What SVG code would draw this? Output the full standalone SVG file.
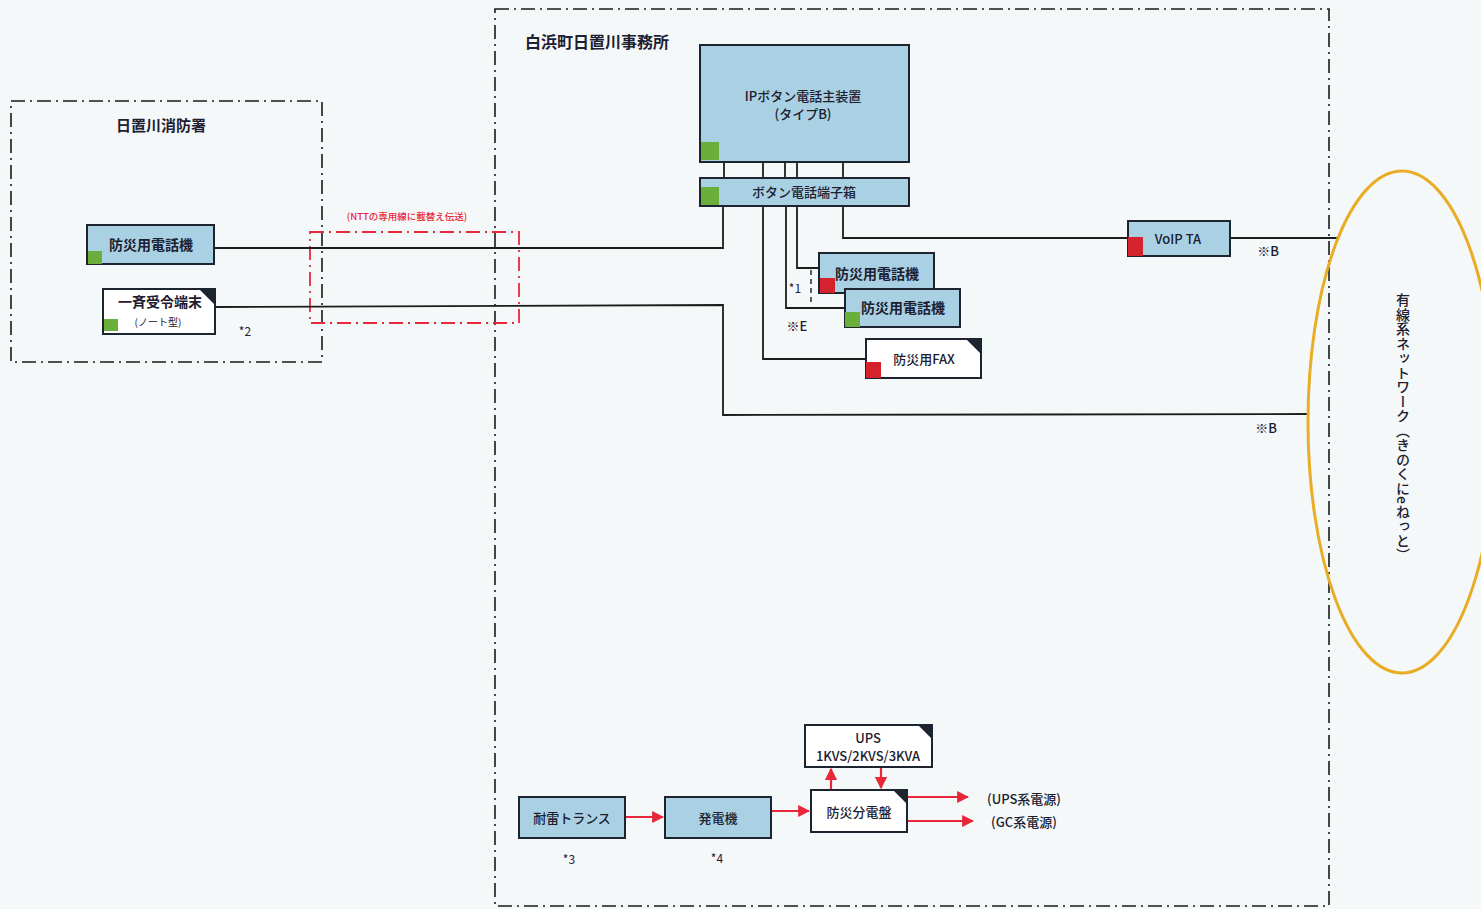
<svg xmlns="http://www.w3.org/2000/svg" width="1481" height="909" viewBox="0 0 1481 909">
<defs>
<style>
.frame{fill:none;stroke:#1a1a1a;stroke-width:1.6;stroke-dasharray:14 5 2 5}
.rframe{fill:none;stroke:#e8283a;stroke-width:1.8;stroke-dasharray:14 5 2 5}
.blue{fill:#a9d1e3;stroke:#1c2430;stroke-width:2}
.white{fill:#ffffff;stroke:#1c2430;stroke-width:2}
.g{fill:#6aae3c}
.r{fill:#d4232d}
.corner{fill:#1c2430}
.t{font-family:"Noto Sans CJK JP","Liberation Sans",sans-serif;font-size:13px;font-weight:500;fill:#1c2030;text-anchor:middle;dominant-baseline:central}
.tb{font-family:"Noto Sans CJK JP","Liberation Sans",sans-serif;font-size:14px;font-weight:bold;fill:#1c2030;text-anchor:middle;dominant-baseline:central}
.title{font-family:"Noto Sans CJK JP","Liberation Sans",sans-serif;font-size:16px;font-weight:bold;fill:#1c2030;text-anchor:middle;dominant-baseline:central}
.ts{font-family:"Noto Sans CJK JP","Liberation Sans",sans-serif;font-size:12px;fill:#1c2030;text-anchor:middle;dominant-baseline:central}
.wire{fill:none;stroke:#1c1c1c;stroke-width:1.8}
.pw{fill:none;stroke:#e8283a;stroke-width:2.2}
</style>
<marker id="ah" viewBox="0 0 10 10" refX="9" refY="5" markerWidth="5.5" markerHeight="5.5" orient="auto-start-reverse" markerUnits="strokeWidth">
<path d="M0,0 L10,5 L0,10 z" fill="#e8283a"/>
</marker>
</defs>
<rect x="0" y="0" width="1481" height="909" fill="#f5f8f9"/>

<g id="frames">
<rect class="frame" x="11" y="101" width="311" height="261"/>
<text class="title" x="161" y="124" style="font-size:15px">日置川消防署</text>
<rect class="frame" x="495" y="9" width="834" height="897"/>
<text class="title" x="597" y="41">白浜町日置川事務所</text>
<rect class="rframe" x="310" y="232" width="209" height="91"/>
<text x="407" y="216" font-family="'Noto Sans CJK JP','Liberation Sans',sans-serif" font-size="9.5" font-weight="500" fill="#e8283a" text-anchor="middle" dominant-baseline="central">(NTTの専用線に載替え伝送)</text>
</g>

<g id="connectors">
<polyline class="wire" points="214,248 723,248 723,206"/>
<polyline class="wire" points="215,307 723,305 723,415 1308,414"/>
<line class="wire" x1="724" y1="162" x2="724" y2="178"/>
<line class="wire" x1="763" y1="162" x2="763" y2="178"/>
<line class="wire" x1="785" y1="162" x2="785" y2="178"/>
<line class="wire" x1="797" y1="162" x2="797" y2="178"/>
<line class="wire" x1="843" y1="162" x2="843" y2="178"/>
<polyline class="wire" points="797,206 797,268 819,268"/>
<polyline class="wire" points="786,206 786,308 845,308"/>
<line x1="811" y1="270" x2="811" y2="306" stroke="#1c1c1c" stroke-width="1.4" stroke-dasharray="5 4"/>
<polyline class="wire" points="763,206 763,359 866,359"/>
<polyline class="wire" points="843,206 843,238 1128,238"/>
<line class="wire" x1="1230" y1="238" x2="1338" y2="238"/>
<text class="ts" x="795" y="287">*1</text>
<text class="t" x="797" y="325">※E</text>
<text class="t" x="1268" y="250">※B</text>
<text class="t" x="1266" y="427">※B</text>
<text class="ts" x="245" y="330">*2</text>
<line class="pw" x1="625" y1="817" x2="663" y2="817" marker-end="url(#ah)"/>
<line class="pw" x1="771" y1="811" x2="809" y2="811" marker-end="url(#ah)"/>
<line class="pw" x1="831" y1="790" x2="831" y2="769" marker-end="url(#ah)"/>
<line class="pw" x1="881" y1="767" x2="881" y2="788" marker-end="url(#ah)"/>
<line class="pw" x1="907" y1="797" x2="968" y2="797" marker-end="url(#ah)"/>
<line class="pw" x1="907" y1="821" x2="973" y2="821" marker-end="url(#ah)"/>
</g>

<g id="fire-phone">
<rect class="blue" x="87" y="225" width="127" height="39"/>
<rect class="g" x="88" y="251" width="14" height="13"/>
<text class="tb" x="151" y="244">防災用電話機</text>
</g>

<g id="fire-terminal">
<rect class="white" x="103" y="289" width="112" height="45"/>
<polygon class="corner" points="199,289 215,289 215,305"/>
<rect class="g" x="104" y="319" width="14" height="12"/>
<text class="tb" x="160" y="301">一斉受令端末</text>
<text class="ts" x="158" y="321" style="font-size:10px">(ノート型)</text>
</g>

<g id="ip-main">
<rect class="blue" x="700" y="45" width="209" height="117"/>
<rect class="g" x="701" y="142" width="18" height="18"/>
<text class="t" x="803" y="95">IPボタン電話主装置</text>
<text class="t" x="803" y="113">(タイプB)</text>
</g>

<g id="terminal-box">
<rect class="blue" x="700" y="178" width="209" height="28"/>
<rect class="g" x="701" y="187" width="18" height="18"/>
<text class="t" x="804" y="191">ボタン電話端子箱</text>
</g>

<g id="phone1">
<rect class="blue" x="819" y="253" width="115" height="40"/>
<rect class="r" x="820" y="278" width="15" height="15"/>
<text class="tb" x="877" y="273">防災用電話機</text>
</g>

<g id="phone2">
<rect class="blue" x="845" y="289" width="115" height="38"/>
<rect class="g" x="845" y="312" width="15" height="15"/>
<text class="tb" x="903" y="307">防災用電話機</text>
</g>

<g id="fax">
<rect class="white" x="866" y="339" width="115" height="39"/>
<polygon class="corner" points="966,339 981,339 981,354"/>
<rect class="r" x="866" y="362" width="15" height="16"/>
<text class="t" x="924" y="358">防災用FAX</text>
</g>

<g id="voip-ta">
<rect class="blue" x="1128" y="221" width="102" height="35"/>
<rect class="r" x="1128" y="237" width="15" height="19"/>
<text class="t" x="1178" y="238">VoIP TA</text>
</g>

<g id="network">
<ellipse cx="1402" cy="422" rx="94" ry="251" fill="none" stroke="#e8ad25" stroke-width="3"/>
<text x="1403" y="293" font-family="'Noto Sans CJK JP',sans-serif" font-size="14" font-weight="500" letter-spacing="0.5" fill="#1c2030" writing-mode="vertical-rl" text-anchor="start">有線系ネットワーク（きのくにeねっと）</text>
</g>

<g id="transformer">
<rect class="blue" x="519" y="797" width="106" height="41"/>
<text class="t" x="572" y="817">耐雷トランス</text>
<text class="ts" x="569" y="858">*3</text>
</g>

<g id="generator">
<rect class="blue" x="665" y="797" width="106" height="41"/>
<text class="t" x="718" y="817">発電機</text>
<text class="ts" x="717" y="857">*4</text>
</g>

<g id="panel">
<rect class="white" x="811" y="790" width="96" height="42"/>
<polygon class="corner" points="893,790 907,790 907,804"/>
<text class="t" x="859" y="811">防災分電盤</text>
</g>

<g id="ups">
<rect class="white" x="805" y="725" width="127" height="42"/>
<polygon class="corner" points="918,725 932,725 932,739"/>
<text class="t" x="868" y="737">UPS</text>
<text class="t" x="868" y="755">1KVS/2KVS/3KVA</text>
</g>

<g id="outputs">
<text class="t" x="1024" y="798">(UPS系電源)</text>
<text class="t" x="1024" y="821">(GC系電源)</text>
</g>
</svg>
